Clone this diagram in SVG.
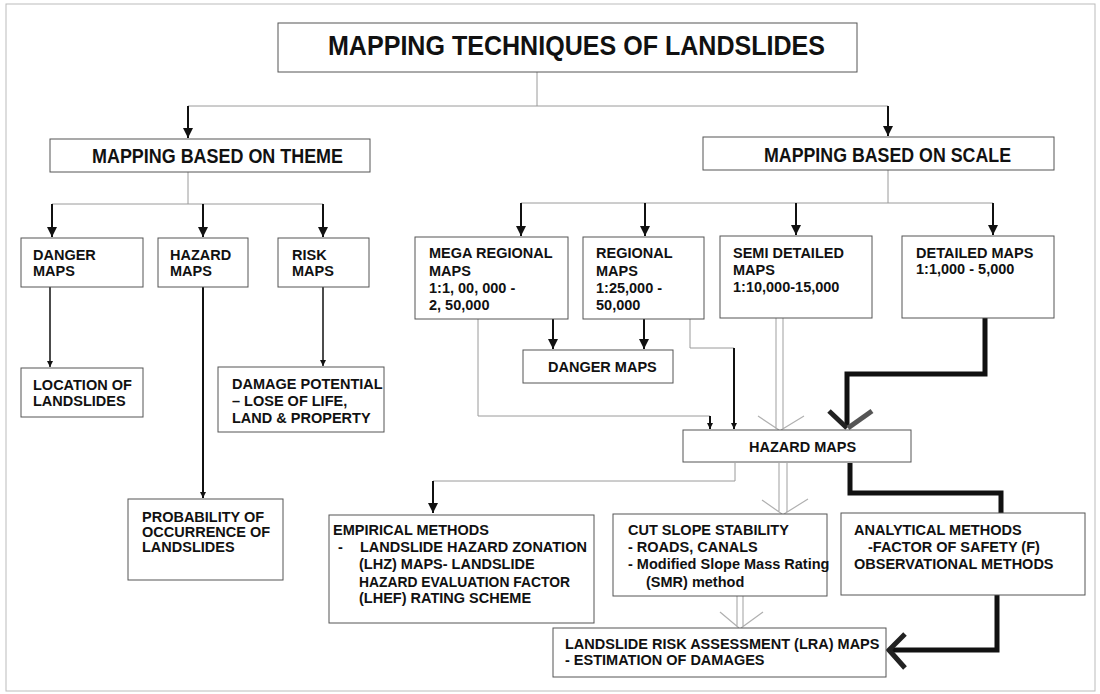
<svg xmlns="http://www.w3.org/2000/svg" width="1100" height="694" viewBox="0 0 1100 694">
<defs>
<marker id="ah" markerUnits="userSpaceOnUse" markerWidth="12" markerHeight="12" refX="10" refY="5" orient="auto">
<path d="M0,0 L10,5 L0,10 Z" fill="#111"/>
</marker>
<marker id="sm" markerUnits="userSpaceOnUse" markerWidth="8" markerHeight="8" refX="6" refY="3" orient="auto">
<path d="M0,0 L6,3 L0,6 Z" fill="#111"/>
</marker>
<style>
.box{fill:#fff;stroke:#555;stroke-width:1}
.t{font-family:"Liberation Sans",Arial,sans-serif;font-weight:bold;font-size:14.5px;fill:#111}
.big{font-family:"Liberation Sans",Arial,sans-serif;font-weight:bold;font-size:27px;fill:#111}
.mid{font-family:"Liberation Sans",Arial,sans-serif;font-weight:bold;font-size:20px;fill:#111}
.g{fill:none;stroke:#9a9a9a;stroke-width:1}
.d{fill:none;stroke:#111;stroke-width:2}
.dl{fill:none;stroke:#111;stroke-width:1.5}
.h{fill:none;stroke:#b0b0b0;stroke-width:1.2}
.k{fill:none;stroke:#111;stroke-width:5}
</style>
</defs>
<rect x="0" y="0" width="1100" height="694" fill="#fff"/>
<rect x="6" y="4" width="1089" height="687" fill="none" stroke="#bbb" stroke-width="1"/>

<g id="connectors">
<path class="g" d="M537,72 V106 M188,106 H888"/>
<path class="d" d="M188,106 V138" marker-end="url(#ah)"/>
<path class="d" d="M888,106 V136" marker-end="url(#ah)"/>
<path class="g" d="M188,172 V204 M52,204 H323"/>
<path class="d" d="M52,204 V237" marker-end="url(#ah)"/>
<path class="d" d="M203,204 V237" marker-end="url(#ah)"/>
<path class="d" d="M323,204 V237" marker-end="url(#ah)"/>
<path class="g" d="M888,170 V203 M521,203 H993"/>
<path class="d" d="M521,203 V236" marker-end="url(#ah)"/>
<path class="d" d="M645,203 V236" marker-end="url(#ah)"/>
<path class="d" d="M796,203 V235" marker-end="url(#ah)"/>
<path class="d" d="M993,203 V235" marker-end="url(#ah)"/>
<path class="dl" d="M50,287 V367" marker-end="url(#sm)"/>
<path class="d" d="M203,287 V498" marker-end="url(#sm)"/>
<path class="dl" d="M323,287 V366" marker-end="url(#sm)"/>
<path class="d" d="M553,319 V349" marker-end="url(#ah)"/>
<path class="d" d="M644,319 V349" marker-end="url(#ah)"/>
<path class="g" d="M478,319 V416 H710"/>
<path class="d" d="M710,416 V429" marker-end="url(#sm)"/>
<path class="g" d="M690,319 V348 H734"/>
<path class="d" d="M734,348 V429" marker-end="url(#sm)"/>
<path class="h" d="M776,318 V429 M783,318 V429 M758,416 L779,430 M804,416 L781,430"/>
<path class="k" d="M985,318 V374 H847 V426"/>
<path fill="none" stroke="#222" stroke-width="5" d="M829,411 L847,428"/>
<path fill="none" stroke="#555" stroke-width="5" d="M872,411 L848,428"/>
<path class="g" d="M735,463 V481 H433"/>
<path class="d" d="M433,481 V513" marker-end="url(#ah)"/>
<path class="h" d="M779,463 V513 M787,463 V513 M762,500 L782,514 M808,499 L784,514"/>
<path class="k" d="M850,463 V493 H1001 V513"/>
<path class="h" d="M737,596 V627 M743,596 V627 M720,612 L739,628 M763,612 L741,628"/>
<path class="k" d="M997,595 V650 H891"/>
<path fill="none" stroke="#222" stroke-width="5" d="M905,634 L889,650 L905,668"/>
</g>

<g id="title">
<rect class="box" x="278" y="23" width="579" height="49"/>
<text class="big" x="328" y="55" textLength="497" lengthAdjust="spacingAndGlyphs">MAPPING TECHNIQUES OF LANDSLIDES</text>
</g>
<g id="theme">
<rect class="box" x="50" y="139" width="320" height="33"/>
<text class="mid" x="92" y="163" textLength="251" lengthAdjust="spacingAndGlyphs">MAPPING BASED ON THEME</text>
</g>
<g id="scale">
<rect class="box" x="703" y="137" width="351" height="33"/>
<text class="mid" x="764" y="162" textLength="247" lengthAdjust="spacingAndGlyphs">MAPPING BASED ON SCALE</text>
</g>
<g id="danger-theme">
<rect class="box" x="21" y="238" width="122" height="49"/>
<text class="t" x="33" y="260">DANGER</text>
<text class="t" x="33" y="276">MAPS</text>
</g>
<g id="hazard-theme">
<rect class="box" x="158" y="238" width="90" height="49"/>
<text class="t" x="170" y="260">HAZARD</text>
<text class="t" x="170" y="276">MAPS</text>
</g>
<g id="risk-theme">
<rect class="box" x="278" y="238" width="91" height="49"/>
<text class="t" x="292" y="260">RISK</text>
<text class="t" x="292" y="276">MAPS</text>
</g>
<g id="location">
<rect class="box" x="21" y="368" width="122" height="49"/>
<text class="t" x="33" y="390">LOCATION OF</text>
<text class="t" x="33" y="406">LANDSLIDES</text>
</g>
<g id="damage">
<rect class="box" x="218" y="367" width="166" height="65"/>
<text class="t" x="232" y="389">DAMAGE POTENTIAL</text>
<text class="t" x="232" y="406">– LOSE OF LIFE,</text>
<text class="t" x="232" y="423">LAND &amp; PROPERTY</text>
</g>
<g id="probability">
<rect class="box" x="128" y="499" width="155" height="81"/>
<text class="t" x="142" y="522">PROBABILITY OF</text>
<text class="t" x="142" y="537">OCCURRENCE OF</text>
<text class="t" x="142" y="552">LANDSLIDES</text>
</g>
<g id="mega">
<rect class="box" x="415" y="237" width="153" height="82"/>
<text class="t" x="429" y="258">MEGA REGIONAL</text>
<text class="t" x="429" y="276">MAPS</text>
<text class="t" x="429" y="293">1:1, 00, 000 -</text>
<text class="t" x="429" y="310">2, 50,000</text>
</g>
<g id="regional">
<rect class="box" x="583" y="237" width="121" height="82"/>
<text class="t" x="596" y="258">REGIONAL</text>
<text class="t" x="596" y="276">MAPS</text>
<text class="t" x="596" y="293">1:25,000 -</text>
<text class="t" x="596" y="310">50,000</text>
</g>
<g id="semi">
<rect class="box" x="720" y="236" width="152" height="82"/>
<text class="t" x="733" y="258">SEMI DETAILED</text>
<text class="t" x="733" y="275">MAPS</text>
<text class="t" x="733" y="292">1:10,000-15,000</text>
</g>
<g id="detailed">
<rect class="box" x="902" y="236" width="152" height="82"/>
<text class="t" x="916" y="258">DETAILED MAPS</text>
<text class="t" x="916" y="274">1:1,000 - 5,000</text>
</g>
<g id="danger-scale">
<rect class="box" x="523" y="350" width="150" height="33"/>
<text class="t" x="548" y="372">DANGER MAPS</text>
</g>
<g id="hazard-scale">
<rect class="box" x="683" y="430" width="228" height="32"/>
<text class="t" x="749" y="452">HAZARD MAPS</text>
</g>
<g id="empirical">
<rect class="box" x="329" y="515" width="265" height="108"/>
<text class="t" x="333" y="535">EMPIRICAL METHODS</text>
<text class="t" x="338" y="552">-</text>
<text class="t" x="360" y="552">LANDSLIDE HAZARD ZONATION</text>
<text class="t" x="359" y="569">(LHZ) MAPS- LANDSLIDE</text>
<text class="t" x="359" y="587" textLength="211" lengthAdjust="spacingAndGlyphs">HAZARD EVALUATION FACTOR</text>
<text class="t" x="359" y="603">(LHEF) RATING SCHEME</text>
</g>
<g id="cutslope">
<rect class="box" x="613" y="514" width="214" height="82"/>
<text class="t" x="628" y="535">CUT SLOPE STABILITY</text>
<text class="t" x="628" y="552">- ROADS, CANALS</text>
<text class="t" x="628" y="569">- Modified Slope Mass Rating</text>
<text class="t" x="646" y="587">(SMR) method</text>
</g>
<g id="analytical">
<rect class="box" x="841" y="513" width="244" height="82"/>
<text class="t" x="854" y="535">ANALYTICAL METHODS</text>
<text class="t" x="868" y="552">-FACTOR OF SAFETY (F)</text>
<text class="t" x="854" y="569">OBSERVATIONAL METHODS</text>
</g>
<g id="lra">
<rect class="box" x="553" y="628" width="333" height="49"/>
<text class="t" x="565" y="649">LANDSLIDE RISK ASSESSMENT (LRA) MAPS</text>
<text class="t" x="565" y="665">- ESTIMATION OF DAMAGES</text>
</g>
</svg>
